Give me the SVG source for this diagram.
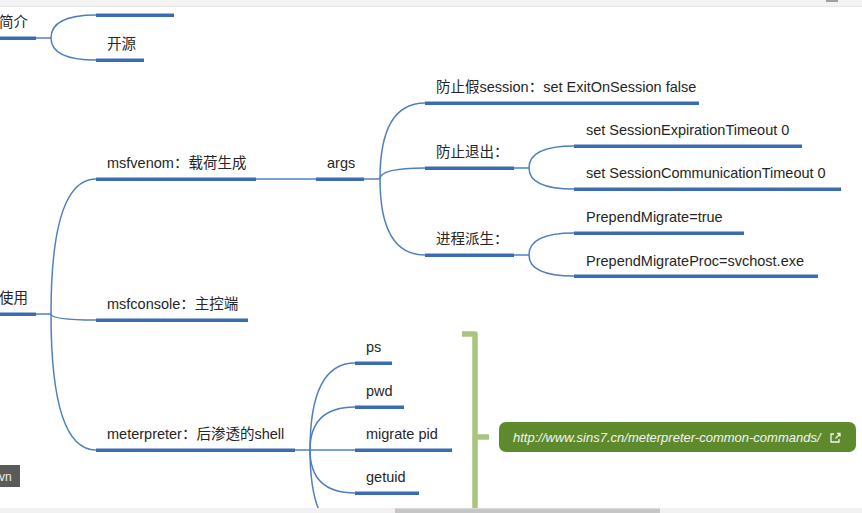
<svg xmlns="http://www.w3.org/2000/svg" width="862" height="513" viewBox="0 0 862 513">
<style>
.t{font-family:"Liberation Sans","Noto Sans CJK SC",sans-serif;font-size:14.5px;fill:#262626}
.u{fill:#3b6cb2}
.c{fill:none;stroke:#4f7fc0;stroke-width:1.5}
.lk{font-family:"Liberation Sans",sans-serif;font-size:13px;font-style:italic;fill:#f4f4f4}
</style>
<rect width="862" height="513" fill="#fff"/>
<g id="toolbar">
<rect x="0" y="0" width="862" height="6" fill="#f3f3f3"/>
<line x1="0" y1="6.5" x2="862" y2="6.5" stroke="#e6e6e6"/>
<rect x="826" y="0" width="12" height="2" fill="#a0a0a0"/>
</g>
<g id="connectors">
<path class="c" d="M36,38 H51"/>
<path class="c" d="M51,38 Q51,15 96,15"/>
<path class="c" d="M51,38 Q51,60 96,60"/>
<path class="c" d="M36,314 H51"/>
<path class="c" d="M51,314 Q51,179 96,179"/>
<path class="c" d="M51,314 Q51,320 96,320"/>
<path class="c" d="M51,314 Q51,450 96,450"/>
<path class="c" d="M256,179 H316"/>
<path class="c" d="M364,179 H380"/>
<path class="c" d="M380,179 Q380,103 425,103"/>
<path class="c" d="M380,179 Q380,168 425,168"/>
<path class="c" d="M380,179 Q380,255 425,255"/>
<path class="c" d="M514,168 H529"/>
<path class="c" d="M529,168 Q529,146 574,146"/>
<path class="c" d="M529,168 Q529,189 574,189"/>
<path class="c" d="M514,255 H529"/>
<path class="c" d="M529,255 Q529,233 574,233"/>
<path class="c" d="M529,255 Q529,276 574,276"/>
<path class="c" d="M295,450 H310"/>
<path class="c" d="M310,450 Q310,363 355,363"/>
<path class="c" d="M310,450 Q310,407 355,407"/>
<path class="c" d="M310,450 H355"/>
<path class="c" d="M310,450 Q310,493 355,493"/>
<path class="c" d="M310,450 Q310,537 355,537"/>
</g>
<g id="n-jianjie"><text class="t" x="-1" y="27">简介</text><rect class="u" x="0" y="36.5" width="36" height="3.5"/></g>
<g id="n-top"><rect class="u" x="96" y="13.5" width="78" height="3.5"/></g>
<g id="n-kaiyuan"><text class="t" x="107" y="49">开源</text><rect class="u" x="96" y="58.5" width="48" height="3.5"/></g>
<g id="n-shiyong"><text class="t" x="-1" y="303">使用</text><rect class="u" x="0" y="312.5" width="36" height="3.5"/></g>
<g id="n-msfvenom"><text class="t" x="107" y="168">msfvenom：载荷生成</text><rect class="u" x="96" y="177.5" width="160" height="3.5"/></g>
<g id="n-args"><text class="t" x="327" y="168">args</text><rect class="u" x="316" y="177.5" width="48" height="3.5"/></g>
<g id="n-fake"><text class="t" x="436" y="92">防止假session：set ExitOnSession false</text><rect class="u" x="425" y="101.5" width="274" height="3.5"/></g>
<g id="n-exit"><text class="t" x="436" y="157">防止退出：</text><rect class="u" x="425" y="166.5" width="89" height="3.5"/></g>
<g id="n-exp"><text class="t" x="586" y="135">set SessionExpirationTimeout 0</text><rect class="u" x="574" y="144.5" width="228" height="3.5"/></g>
<g id="n-comm"><text class="t" x="586" y="178">set SessionCommunicationTimeout 0</text><rect class="u" x="574" y="187.5" width="267" height="3.5"/></g>
<g id="n-proc"><text class="t" x="436" y="244">进程派生：</text><rect class="u" x="425" y="253.5" width="89" height="3.5"/></g>
<g id="n-pm"><text class="t" x="586" y="222">PrependMigrate=true</text><rect class="u" x="574" y="231.5" width="170" height="3.5"/></g>
<g id="n-pmp"><text class="t" x="586" y="266">PrependMigrateProc=svchost.exe</text><rect class="u" x="574" y="274.5" width="244" height="3.5"/></g>
<g id="n-msfconsole"><text class="t" x="107" y="309">msfconsole：主控端</text><rect class="u" x="96" y="318.5" width="152" height="3.5"/></g>
<g id="n-meterpreter"><text class="t" x="107" y="439">meterpreter：后渗透的shell</text><rect class="u" x="96" y="448.5" width="199" height="3.5"/></g>
<g id="n-ps"><text class="t" x="366" y="352">ps</text><rect class="u" x="355" y="361.5" width="37" height="3.5"/></g>
<g id="n-pwd"><text class="t" x="366" y="396">pwd</text><rect class="u" x="355" y="405.5" width="49" height="3.5"/></g>
<g id="n-migrate"><text class="t" x="366" y="439">migrate pid</text><rect class="u" x="355" y="448.5" width="97" height="3.5"/></g>
<g id="n-getuid"><text class="t" x="366" y="482">getuid</text><rect class="u" x="355" y="491.5" width="64" height="3.5"/></g>
<g id="bracket">
<path d="M462,334 H475 V520 M475,437 H489" fill="none" stroke="#a9c47f" stroke-width="5.5" stroke-linejoin="round"/>
</g>
<g id="n-link">
<rect x="499" y="422" width="357" height="30" rx="7" fill="#5e8a2d"/>
<text class="lk" x="513" y="441.5">http://www.sins7.cn/meterpreter-common-commands/</text>
<path d="M834,434 H831 V442 H839 V439 M835.5,438.5 L840,434 M837,433.5 H840 V436.5" fill="none" stroke="#f4f4f4" stroke-width="1.3"/>
</g>
<g id="vn-button">
<rect x="0" y="465" width="20" height="22" fill="#5a5a5a"/>
<text x="-1" y="481" font-family="Liberation Sans,sans-serif" font-size="12" fill="#eee">vn</text>
</g>
<g id="scrollbar">
<rect x="0" y="508" width="862" height="5" fill="#f1f1f1"/>
<rect x="395" y="508.5" width="265" height="4.5" fill="#c6c6c6"/>
</g>
</svg>
